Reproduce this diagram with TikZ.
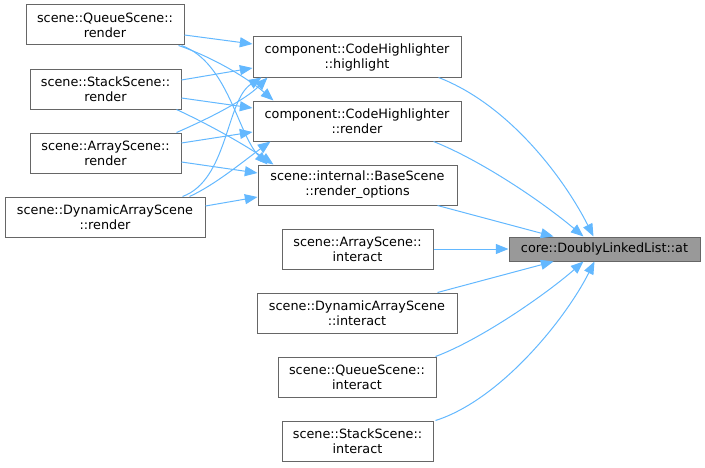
\documentclass[tikz,border=0pt]{standalone}
\usepackage{fontspec}
\setmainfont{DejaVu Sans}
\usetikzlibrary{arrows.meta,calc}
\definecolor{edgeblue}{HTML}{63B8FF}
\definecolor{boxline}{HTML}{666666}
\definecolor{hitfill}{HTML}{999999}
\begin{document}
\begin{tikzpicture}[x=0.75pt,y=-0.75pt,
  bx/.style={draw=boxline,fill=white,line width=0.75pt,inner sep=0pt,align=center,
    minimum height=30pt,font=\fontsize{9.6}{11.25}\selectfont},
  hit/.style={bx,fill=hitfill,minimum height=18pt},
  edge/.style={draw=edgeblue,line width=0.75pt,-{Triangle[length=9.5pt,width=7.5pt]}}]
\path[use as bounding box] (0,0) rectangle (705,467);
% left column
\node[bx,minimum width=118.5pt] (qsr) at (105,25) {scene::QueueScene::\\render};
\node[bx,minimum width=113.25pt] (ssr) at (105.5,89) {scene::StackScene::\\render};
\node[bx,minimum width=113.25pt] (asr) at (105.5,153) {scene::ArrayScene::\\render};
\node[bx,minimum width=150pt] (dasr) at (105,217) {scene::DynamicArrayScene\\::render};
% middle column
\node[bx,minimum width=156pt] (hl) at (357,57) {component::CodeHighlighter\\::highlight};
\node[bx,minimum width=156pt] (chr) at (357,121) {component::CodeHighlighter\\::render};
\node[bx,minimum width=149.25pt] (ro) at (357.5,185) {scene::internal::BaseScene\\::render\_options};
\node[bx,minimum width=113.25pt] (asi) at (357.5,249) {scene::ArrayScene::\\interact};
\node[bx,minimum width=150pt] (dasi) at (357,313) {scene::DynamicArrayScene\\::interact};
\node[bx,minimum width=118.5pt] (qsi) at (357,377) {scene::QueueScene::\\interact};
\node[bx,minimum width=113.25pt] (ssi) at (357.5,441) {scene::StackScene::\\interact};
% target
\node[hit,minimum width=143.25pt] (at) at (604.5,249) {core::DoublyLinkedList::at};
% left edges
\draw[edge] ($(qsr.east)+(0,10)$) -- ($(hl.west)+(0,-13)$);
\draw[edge] ($(qsr.south east)+(-6,0)$) .. controls (215,58) and (250,80) .. ($(chr.north west)+(21,0)$);
\draw[edge] ($(qsr.south east)+(-3,0)$) .. controls (228,62) and (238,135) .. ($(ro.north west)+(10,0)$);
\draw[edge] ($(ssr.east)+(0,-9)$) -- ($(hl.west)+(0,11)$);
\draw[edge] ($(ssr.east)+(0,9)$) -- ($(chr.west)+(0,-13)$);
\draw[edge] ($(ssr.south east)+(-5,0)$) .. controls (210,125) and (245,145) .. ($(ro.north west)+(16,0)$);
\draw[edge] ($(asr.north east)+(-5,0)$) .. controls (210,118) and (245,100) .. ($(hl.south west)+(15,0)$);
\draw[edge] ($(asr.east)+(0,-10)$) -- ($(chr.west)+(0,11)$);
\draw[edge] ($(asr.east)+(0,9)$) -- ($(ro.west)+(0,-12)$);
\draw[edge] ($(dasr.north east)+(-23,0)$) .. controls (228,180) and (226,100) .. ($(hl.south west)+(9,0)$);
\draw[edge] ($(dasr.north east)+(-16,0)$) .. controls (215,185) and (245,160) .. ($(chr.south west)+(18,0)$);
\draw[edge] ($(dasr.east)+(0,-11)$) -- ($(ro.west)+(0,12)$);
% right edges
\draw[edge] ($(hl.south east)+(-23,0)$) .. controls (510,105) and (565,180) .. ($(at.north west)+(85,0)$);
\draw[edge] ($(chr.south east)+(-28,0)$) .. controls (480,160) and (540,200) .. ($(at.north west)+(75,0)$);
\draw[edge] ($(ro.south east)+(-20,0)$) -- ($(at.north west)+(45,0)$);
\draw[edge] (asi.east) -- (at.west);
\draw[edge] ($(dasi.north east)+(-20,0)$) -- ($(at.south west)+(45,0)$);
\draw[edge] ($(qsi.north east)+(-1,0)$) .. controls (480,340) and (545,295) .. ($(at.south west)+(75,0)$);
\draw[edge] ($(ssi.north east)+(2,0)$) .. controls (500,400) and (565,320) .. ($(at.south west)+(86,0)$);
\end{tikzpicture}
\end{document}
